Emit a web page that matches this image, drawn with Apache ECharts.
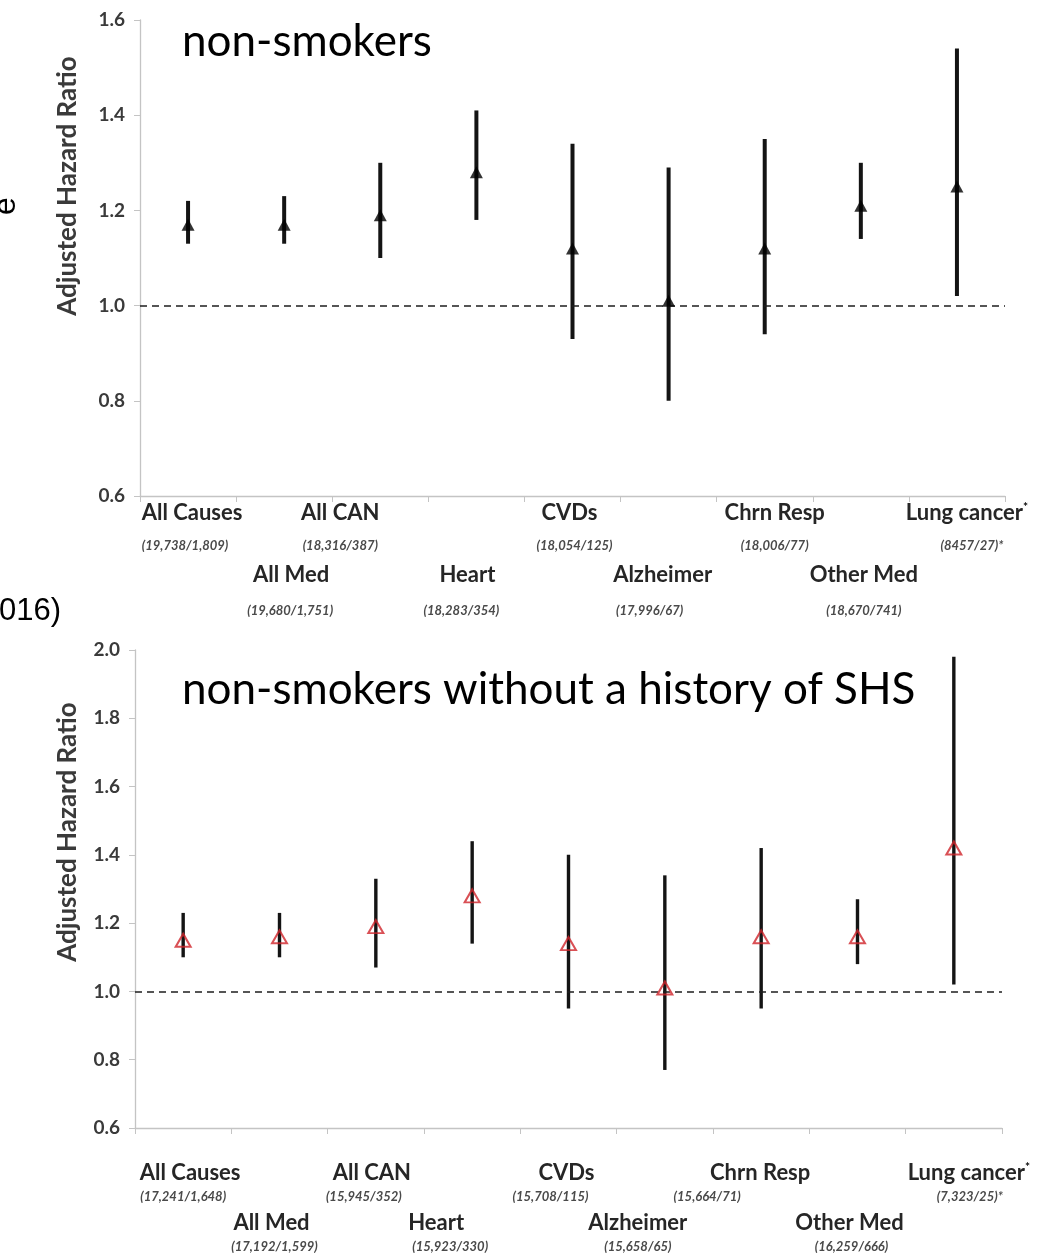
<!DOCTYPE html>
<html><head><meta charset="utf-8">
<script src="https://cdn.jsdelivr.net/npm/echarts@6/dist/echarts.min.js"></script>
<style>html,body{margin:0;padding:0;background:#fff;overflow:hidden}#c{width:1058px;height:1253px}</style>
</head><body><div id="c"></div>
<script>
// ---------- DATA ----------
const categories = ['All Causes','All Med','All CAN','Heart','CVDs','Alzheimer','Chrn Resp','Other Med','Lung cancer*'];
const countsTop = ['(19,738/1,809)','(19,680/1,751)','(18,316/387)','(18,283/354)','(18,054/125)','(17,996/67)','(18,006/77)','(18,670/741)','(8457/27)*'];
const countsBottom = ['(17,241/1,648)','(17,192/1,599)','(15,945/352)','(15,923/330)','(15,708/115)','(15,658/65)','(15,664/71)','(16,259/666)','(7,323/25)*'];
// non-smokers
const hrTop   = [1.17, 1.17, 1.19, 1.28, 1.12, 1.01, 1.12, 1.21, 1.25];
const lowTop  = [1.13, 1.13, 1.10, 1.18, 0.93, 0.80, 0.94, 1.14, 1.02];
const highTop = [1.22, 1.23, 1.30, 1.41, 1.34, 1.29, 1.35, 1.30, 1.54];
// non-smokers without a history of SHS
const hrBottom   = [1.15, 1.16, 1.19, 1.28, 1.14, 1.01, 1.16, 1.16, 1.42];
const lowBottom  = [1.10, 1.10, 1.07, 1.14, 0.95, 0.77, 0.95, 1.08, 1.02];
const highBottom = [1.23, 1.23, 1.33, 1.44, 1.40, 1.34, 1.42, 1.27, 1.98];
const yTicksTop    = [0.6, 0.8, 1.0, 1.2, 1.4, 1.6];
const yTicksBottom = [0.6, 0.8, 1.0, 1.2, 1.4, 1.6, 1.8, 2.0];
const refLine = 1.0;
const panelTitles = ['non-smokers', 'non-smokers without a history of SHS'];
const axisTitle = 'Adjusted Hazard Ratio';

// ---------- LAYOUT (pixel shifts of category labels relative to category centre) ----------
const nameShiftTop    = [4, 7, -40, -9, -3, -6, 10, 3, 10];
const countShiftTop   = [-3, 6, -40, -15, 2, -19, 10, 3, 15];
const nameShiftBottom = [7, -8, -4, -36, -2, -27, -1, -8, 15];
const countShiftBottom= [0, -5, -12, -22, -18, -27, -54, -6, 16];

const FONT = 'Lato';
const chart = echarts.init(document.getElementById('c'), null, {renderer: 'canvas'});

function yAxisFor(grid, ticks) {
  return {
    gridIndex: grid, type: 'value',
    min: ticks[0], max: ticks[ticks.length - 1], interval: +(ticks[1] - ticks[0]).toFixed(2),
    axisLine: {show: true, lineStyle: {color: '#c4c4c4', width: 1.3}},
    axisTick: {show: true, length: 6, lineStyle: {color: '#c4c4c4'}},
    axisLabel: {formatter: v => v.toFixed(1), fontFamily: FONT, fontWeight: 'bold', fontSize: 19, color: '#3a3a3a', margin: 15},
    splitLine: {show: false}
  };
}
function xAxisFor(grid) {
  return {
    gridIndex: grid, type: 'category', data: categories, boundaryGap: true,
    axisLine: {show: true, lineStyle: {color: '#c4c4c4', width: 1.3}},
    axisTick: {show: true, length: 6, lineStyle: {color: '#c4c4c4'}},
    axisLabel: {show: false}, splitLine: {show: false}
  };
}
function errorBars(idx, low, high, width) {
  return {
    type: 'custom', xAxisIndex: idx, yAxisIndex: idx, z: 3,
    data: categories.map((c, i) => [i, low[i], high[i]]),
    encode: {x: 0, y: [1, 2]},
    renderItem: (params, api) => {
      const a = api.coord([api.value(0), api.value(1)]);
      const b = api.coord([api.value(0), api.value(2)]);
      return {type: 'line', shape: {x1: a[0], y1: a[1], x2: b[0], y2: b[1]},
        style: {stroke: '#141414', lineWidth: width}};
    }
  };
}
function labelSeries(idx, yMin, counts, nameShift, countShift, rows, nameSize, countSize) {
  return {
    type: 'custom', xAxisIndex: idx, yAxisIndex: idx, clip: false, silent: true,
    data: categories.map((c, i) => [i, yMin]),
    encode: {x: 0, y: 1},
    renderItem: (params, api) => {
      const i = api.value(0);
      const p = api.coord([i, yMin]);
      const r = i % 2 === 0 ? rows[0] : rows[1];
      const name = categories[i];
      const star = name.endsWith('*');
      const txt = star ? '{n|' + name.slice(0, -1) + '}{s|*}' : '{n|' + name + '}';
      return {type: 'group', children: [
        {type: 'text', x: p[0] + nameShift[i], y: p[1] + r[0],
          style: {text: txt, align: 'center', verticalAlign: 'middle',
            rich: {n: {fontFamily: FONT, fontWeight: 'bold', fontSize: nameSize, fill: '#262626', color: '#262626'},
                   s: {fontFamily: FONT, fontWeight: 'bold', fontSize: 12, color: '#262626', padding: [0, 0, 12, 0]}}}},
        {type: 'text', x: p[0] + countShift[i], y: p[1] + r[1],
          style: {text: counts[i], align: 'center', verticalAlign: 'middle', fill: '#4a4a4a',
            fontFamily: FONT, fontStyle: 'italic', fontWeight: 'bold', fontSize: countSize}}
      ]};
    }
  };
}
function markers(idx, hr, style, size) {
  return {
    type: 'scatter', xAxisIndex: idx, yAxisIndex: idx, z: 5,
    data: hr, symbol: 'triangle', symbolSize: size, itemStyle: style,
    markLine: {silent: true, symbol: ['none', 'none'], label: {show: false},
      lineStyle: {type: [7, 5], color: '#1e1e1e', width: 1.6}, data: [{yAxis: refLine}]}
  };
}

const option = {
  animation: false,
  backgroundColor: '#ffffff',
  grid: [
    {left: 140, top: 20, width: 865, height: 476},
    {left: 135, top: 650, width: 867, height: 478}
  ],
  xAxis: [xAxisFor(0), xAxisFor(1)],
  yAxis: [yAxisFor(0, yTicksTop), yAxisFor(1, yTicksBottom)],
  series: [
    errorBars(0, lowTop, highTop, 4),
    markers(0, hrTop, {color: '#000000'}, [13, 12]),
    errorBars(1, lowBottom, highBottom, 3.4),
    markers(1, hrBottom, {color: 'rgba(255,255,255,0)', borderColor: '#d0242b', borderWidth: 2}, [15, 13]),
    labelSeries(0, yTicksTop[0], countsTop, nameShiftTop, countShiftTop, [[17, 50], [79, 115]], 22, 13),
    labelSeries(1, yTicksBottom[0], countsBottom, nameShiftBottom, countShiftBottom, [[45, 69], [95, 119]], 22, 13)
  ],
  graphic: [
    {type: 'text', left: 182, top: 20, style: {text: panelTitles[0], font: '44px Lato', fill: '#000'}},
    {type: 'text', left: 182, top: 668, style: {text: panelTitles[1], font: '44px Lato', fill: '#000'}},
    {type: 'text', x: 68, y: 186, rotation: Math.PI / 2,
      style: {text: axisTitle, align: 'center', verticalAlign: 'middle', font: 'bold 26px Lato', fill: '#3a3a3a'}},
    {type: 'text', x: 68, y: 832, rotation: Math.PI / 2,
      style: {text: axisTitle, align: 'center', verticalAlign: 'middle', font: 'bold 26px Lato', fill: '#3a3a3a'}},
    {type: 'text', x: 6, y: 206, rotation: Math.PI / 2,
      style: {text: 'e', align: 'center', verticalAlign: 'middle', font: '32px "Liberation Sans"', fill: '#000'}},
    {type: 'text', x: -1, y: 611,
      style: {text: '016)', align: 'left', verticalAlign: 'middle', font: '31px "Liberation Sans"', fill: '#000'}}
  ]
};
chart.setOption(option);
</script>
</body></html>
